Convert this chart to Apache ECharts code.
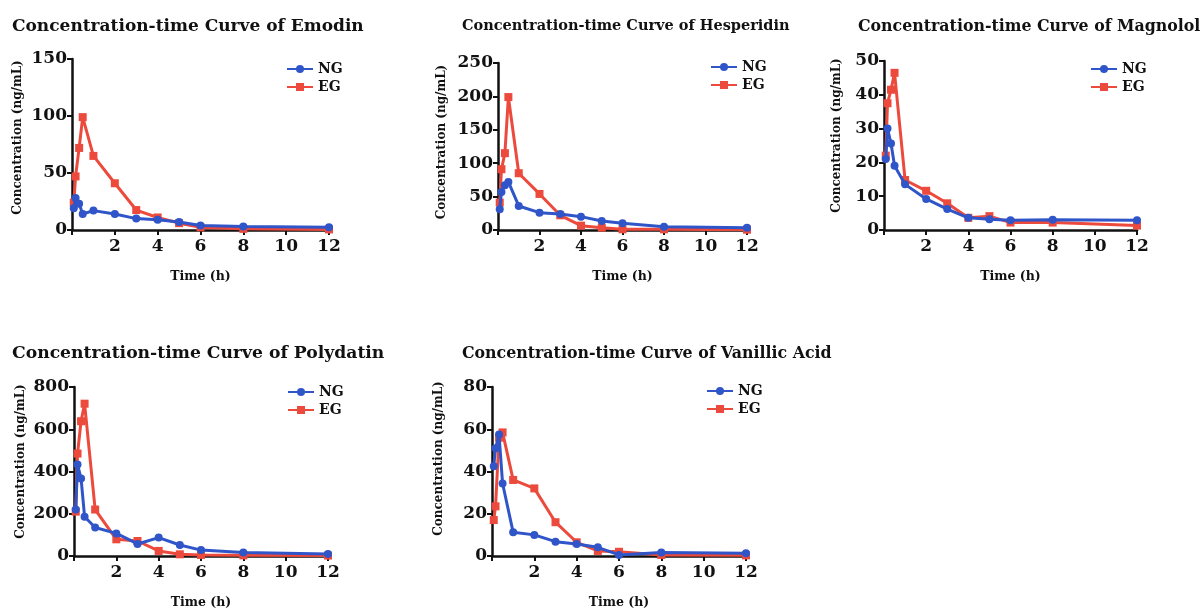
<!DOCTYPE html>
<html>
<head>
<meta charset="utf-8">
<style>
    html, body { margin: 0; padding: 0; background: #fff; }
    #main { width: 1203px; height: 611px; }
</style>
<script src="https://cdn.jsdelivr.net/npm/echarts/dist/echarts.min.js"></script>
</head>
<body>
<div id="main"></div>
<script>
// sampling times (h)
var times = [0.083, 0.167, 0.333, 0.5, 1, 2, 3, 4, 5, 6, 8, 12];
var xTicks = [2, 4, 6, 8, 10, 12];

// concentration (ng/mL), NG = normal group, EG = experimental group
var emodinNG = [19, 28, 23, 14, 17, 14, 10, 9, 7, 4, 3, 2.5];
var emodinEG = [24, 47, 72, 99, 65, 41, 17.5, 11, 6, 2.3, 1, 0.5];
var hesperidinNG = [31, 57, 67, 72, 36, 26, 24, 20, 13.5, 10, 5, 3.5];
var hesperidinEG = [41, 91, 115, 199, 85, 54, 22, 6.5, 3.5, 1, 1, 0.5];
var magnololNG = [21, 30, 25.6, 19, 13.5, 9.2, 6.2, 3.6, 3.2, 2.9, 3, 2.9];
var magnololEG = [22, 37.5, 41.5, 46.5, 14.8, 11.6, 7.9, 3.6, 4.1, 2.2, 2.2, 1.3];
var polydatinNG = [220, 433, 367, 186, 135, 107, 57, 87, 52, 28, 16, 9];
var polydatinEG = [210, 485, 638, 721, 220, 79, 71, 24, 8, 5, 3, 2];
var vanillicNG = [42.5, 51, 57.5, 34.3, 11.2, 10, 6.8, 5.7, 4.1, 0.5, 1.7, 1.3];
var vanillicEG = [17, 23.5, 56, 58.5, 36, 32, 16, 6.5, 2.4, 2, 0.5, 0.3];

var yMax = [150, 250, 50, 800, 80];
var yStep = [50, 50, 10, 200, 20];
var titles = [
    "Concentration-time Curve of Emodin",
    "Concentration-time Curve of Hesperidin",
    "Concentration-time Curve of Magnolol",
    "Concentration-time Curve of Polydatin",
    "Concentration-time Curve of Vanillic Acid"
];
var ngData = [emodinNG, hesperidinNG, magnololNG, polydatinNG, vanillicNG];
var egData = [emodinEG, hesperidinEG, magnololEG, polydatinEG, vanillicEG];

(function () {
    var myChart = echarts.init(document.getElementById("main"));
    var font = "DejaVu Serif";
    var blue = "#2f55c8";
    var red = "#ec4a3c";

    // panel boxes: grid, title pos + size, legend pos, y name gap + upward shift
    var panels = [
        { l: 72, t: 59, w: 257, h: 171, tx: 7, ty: 13, ts: 17, lx: 281, ly: 57, ng: 48, up: 14 },
        { l: 498, t: 63, w: 249, h: 167, tx: 457, ty: 14, ts: 14.5, lx: 705, ly: 55, ng: 50, up: 9 },
        { l: 884, t: 61, w: 253, h: 169, tx: 853, ty: 14, ts: 15.8, lx: 1085, ly: 57, ng: 41, up: 20 },
        { l: 74, t: 387, w: 254, h: 169, tx: 7, ty: 340, ts: 17.2, lx: 282, ly: 380, ng: 47, up: 20 },
        { l: 492, t: 387, w: 254, h: 169, tx: 457, ty: 341, ts: 15.8, lx: 701, ly: 379, ng: 47, up: 26 }
    ];

    var grid = [], xAxis = [], yAxis = [], series = [], title = [], legend = [];
    panels.forEach(function (p, i) {
        grid.push({ left: p.l, top: p.t, width: p.w, height: p.h });
        title.push({
            text: titles[i],
            left: p.tx,
            top: p.ty,
            textStyle: { fontFamily: font, fontWeight: "bold", fontSize: p.ts, color: "#111" }
        });
        legend.push({
            data: ["NG", "EG"],
            left: p.lx,
            top: p.ly,
            orient: "vertical",
            itemWidth: 26,
            itemHeight: 10,
            itemGap: 4,
            textStyle: { fontFamily: font, fontWeight: "bold", fontSize: 14, color: "#111" }
        });
        xAxis.push({
            type: "value",
            gridIndex: i,
            min: 0,
            max: 12,
            interval: 2,
            name: "Time (h)",
            nameLocation: "middle",
            nameGap: 40,
            nameTextStyle: { fontFamily: font, fontWeight: "bold", fontSize: 12.5, color: "#111" },
            splitLine: { show: false },
            axisLine: { lineStyle: { color: "#111", width: 2.5 } },
            axisTick: { lineStyle: { color: "#111", width: 2 }, length: 5 },
            axisLabel: {
                fontFamily: font, fontWeight: "bold", fontSize: 17, color: "#111", margin: 8,
                formatter: function (v) { return xTicks.indexOf(v) >= 0 ? v : ""; }
            }
        });
        yAxis.push({
            type: "value",
            gridIndex: i,
            min: 0,
            max: yMax[i],
            interval: yStep[i],
            name: "Concentration (ng/mL)",
            nameLocation: "middle",
            nameRotate: 90,
            nameGap: p.ng,
            nameTextStyle: {
                fontFamily: font, fontWeight: "bold", fontSize: 12, color: "#111",
                padding: [0, 0, 0, p.up]
            },
            splitLine: { show: false },
            axisLine: { show: true, lineStyle: { color: "#111", width: 2.5 } },
            axisTick: { show: true, lineStyle: { color: "#111", width: 2 }, length: 5 },
            axisLabel: { fontFamily: font, fontWeight: "bold", fontSize: 17, color: "#111", margin: 5 }
        });
        series.push({
            name: "EG",
            type: "line",
            xAxisIndex: i,
            yAxisIndex: i,
            data: times.map(function (t, k) { return [t, egData[i][k]]; }),
            symbol: "rect",
            symbolSize: 8,
            color: red,
            lineStyle: { width: 3 },
            z: 2
        });
        series.push({
            name: "NG",
            type: "line",
            xAxisIndex: i,
            yAxisIndex: i,
            data: times.map(function (t, k) { return [t, ngData[i][k]]; }),
            symbol: "circle",
            symbolSize: 8,
            color: blue,
            lineStyle: { width: 3 },
            z: 3
        });
    });

    var option = {
        animation: false,
        backgroundColor: "#fff",
        title: title,
        legend: legend,
        grid: grid,
        xAxis: xAxis,
        yAxis: yAxis,
        series: series
    };

    myChart.setOption(option);
    window.addEventListener("resize", function () {
        myChart.resize();
    });
})();
</script>
</body>
</html>
